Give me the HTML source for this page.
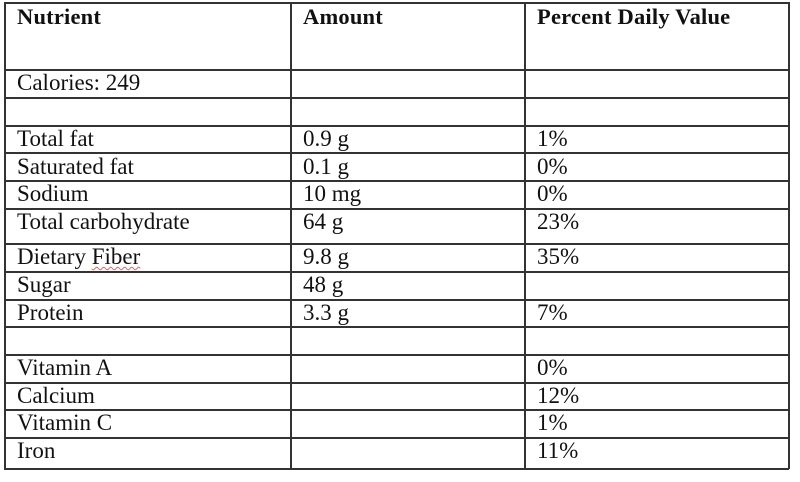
<!DOCTYPE html>
<html><head><style>
body{margin:0;width:800px;height:482px;background:#fff;position:relative;overflow:hidden;font-family:"Liberation Serif","Times New Roman",serif;color:#111}
.h{position:absolute;left:4px;width:785px;height:1.5px;background:#333}
.v{position:absolute;top:2px;height:467px;width:1.5px;background:#333}
.t{position:absolute;font-size:23px;line-height:23px;white-space:nowrap;font-family:"Liberation Serif",serif;letter-spacing:0}
.b{font-weight:bold;font-size:22.5px;letter-spacing:0.2px}
</style></head><body>
<div class="h" style="top:2px"></div>
<div class="h" style="top:69px"></div>
<div class="h" style="top:97px"></div>
<div class="h" style="top:125px"></div>
<div class="h" style="top:152px"></div>
<div class="h" style="top:180px"></div>
<div class="h" style="top:208px"></div>
<div class="h" style="top:243px"></div>
<div class="h" style="top:271px"></div>
<div class="h" style="top:299px"></div>
<div class="h" style="top:326px"></div>
<div class="h" style="top:354px"></div>
<div class="h" style="top:382px"></div>
<div class="h" style="top:409px"></div>
<div class="h" style="top:437px"></div>
<div class="h" style="top:468px"></div>
<div class="v" style="left:4px"></div>
<div class="v" style="left:290px"></div>
<div class="v" style="left:524px"></div>
<div class="v" style="left:788px"></div>

<div class="t b" style="left:17px;top:5px">Nutrient</div>
<div class="t b" style="left:303px;top:5px">Amount</div>
<div class="t b" style="left:537px;top:5px">Percent Daily Value</div>

<div class="t" style="left:17px;top:71px">Calories: 249</div>

<div class="t" style="left:17px;top:127px">Total fat</div>
<div class="t" style="left:303px;top:127px">0.9 g</div>
<div class="t" style="left:537px;top:127px">1%</div>

<div class="t" style="left:17px;top:155px">Saturated fat</div>
<div class="t" style="left:303px;top:155px">0.1 g</div>
<div class="t" style="left:537px;top:155px">0%</div>

<div class="t" style="left:17px;top:182px">Sodium</div>
<div class="t" style="left:303px;top:182px">10 mg</div>
<div class="t" style="left:537px;top:182px">0%</div>

<div class="t" style="left:17px;top:210px">Total carbohydrate</div>
<div class="t" style="left:303px;top:210px">64 g</div>
<div class="t" style="left:537px;top:210px">23%</div>

<div class="t" style="left:17px;top:245px">Dietary <span style="text-decoration:underline wavy #d66;text-underline-offset:2px;text-decoration-thickness:1px">Fiber</span></div>
<div class="t" style="left:303px;top:245px">9.8 g</div>
<div class="t" style="left:537px;top:245px">35%</div>

<div class="t" style="left:17px;top:273px">Sugar</div>
<div class="t" style="left:303px;top:273px">48 g</div>

<div class="t" style="left:17px;top:301px">Protein</div>
<div class="t" style="left:303px;top:301px">3.3 g</div>
<div class="t" style="left:537px;top:301px">7%</div>

<div class="t" style="left:17px;top:356px">Vitamin A</div>
<div class="t" style="left:537px;top:356px">0%</div>

<div class="t" style="left:17px;top:384px">Calcium</div>
<div class="t" style="left:537px;top:384px">12%</div>

<div class="t" style="left:17px;top:411px">Vitamin C</div>
<div class="t" style="left:537px;top:411px">1%</div>

<div class="t" style="left:17px;top:439px">Iron</div>
<div class="t" style="left:537px;top:439px">11%</div>
</body></html>
